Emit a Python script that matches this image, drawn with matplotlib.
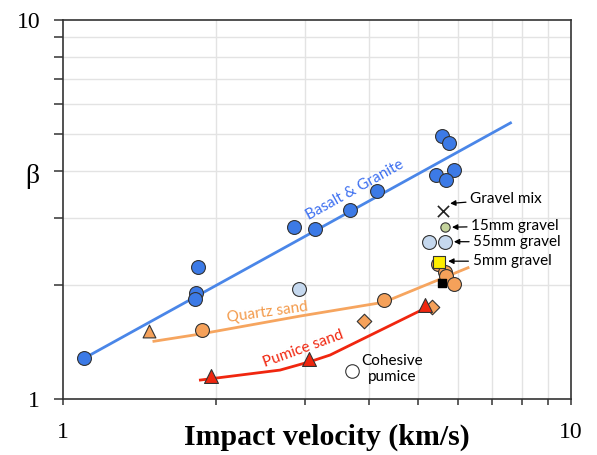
import matplotlib
matplotlib.use("Agg")
import matplotlib.pyplot as plt
from matplotlib.ticker import LogLocator, NullFormatter, FixedLocator, FixedFormatter

# basalt & granite targets
basalt_v = [1.10, 1.845, 1.827, 1.82, 2.85, 3.13, 3.67, 4.15, 5.57, 5.75, 5.88, 5.42, 5.67]
basalt_b = [1.28, 2.23, 1.905, 1.835, 2.84, 2.81, 3.15, 3.54, 4.94, 4.74, 4.02, 3.90, 3.78]
basalt_fit_v = [1.10, 7.6]
basalt_fit_b = [1.28, 5.35]

# quartz sand
quartz_v = [1.877, 4.28, 5.47, 5.65, 5.67, 5.88]
quartz_b = [1.52, 1.825, 2.27, 2.16, 2.11, 2.01]
quartz_tri_v = [1.48]
quartz_tri_b = [1.51]
quartz_dia_v = [3.91, 5.33]
quartz_dia_b = [1.61, 1.75]
quartz_fit_v = [1.51, 1.87, 2.93, 4.28, 6.27]
quartz_fit_b = [1.42, 1.485, 1.655, 1.80, 2.22]

# pumice sand
pumice_v = [1.955, 3.05, 5.16]
pumice_b = [1.15, 1.275, 1.77]
pumice_fit_v = [1.864, 2.674, 3.06, 3.355, 5.08]
pumice_fit_b = [1.122, 1.192, 1.254, 1.306, 1.717]

cohesive_v, cohesive_b = [3.70], [1.185]
lightblue_v = [2.915, 5.25, 5.65]
lightblue_b = [1.95, 2.60, 2.60]
gravelmix_v, gravelmix_b = [5.60], [3.13]
gravel15_v, gravel15_b = [5.65], [2.84]
gravel5_v, gravel5_b = [5.50], [2.30]
black_v, black_b = [5.57], [2.02]

fig = plt.figure(figsize=(5.97, 4.55), dpi=100)
ax = fig.add_axes([0.1055, 0.1231, 0.851, 0.833])
ax.set_xscale("log")
ax.set_yscale("log")
ax.set_xlim(1, 10)
ax.set_ylim(1, 10)

grid_vals = [2, 3, 4, 5, 6, 7, 8, 9]
for g in grid_vals:
    ax.axvline(g, color="#e3e3e3", lw=1.0, zorder=0)
    ax.axhline(g, color="#e3e3e3", lw=1.0, zorder=0)

ax.plot(basalt_fit_v, basalt_fit_b, color="#4a86e8", lw=2, zorder=2)
ax.plot(quartz_fit_v, quartz_fit_b, color="#f6a55f", lw=2, zorder=2)
ax.plot(pumice_fit_v, pumice_fit_b, color="#f0260f", lw=2, zorder=2)

ec = "#333333"
ax.scatter(basalt_v, basalt_b, s=100, c="#3c7ae6", edgecolors=ec, linewidths=0.8, zorder=3)
ax.scatter(lightblue_v, lightblue_b, s=100, c="#c5d8ee", edgecolors=ec, linewidths=0.8, zorder=3)
ax.scatter(quartz_v, quartz_b, s=100, c="#f5a15a", edgecolors=ec, linewidths=0.8, zorder=3)
ax.scatter(quartz_tri_v, quartz_tri_b, s=85, marker="^", c="#f5a15a", edgecolors=ec, linewidths=0.8, zorder=3)
ax.scatter(quartz_dia_v, quartz_dia_b, s=55, marker="D", c="#f5a15a", edgecolors=ec, linewidths=0.8, zorder=3)
ax.scatter(pumice_v, pumice_b, s=100, marker="^", c="#f0260f", edgecolors=ec, linewidths=0.8, zorder=4)
ax.scatter(cohesive_v, cohesive_b, s=95, c="white", edgecolors=ec, linewidths=0.8, zorder=3)
ax.scatter(gravelmix_v, gravelmix_b, s=65, marker="x", c="#222222", linewidths=1.2, zorder=3)
ax.scatter(gravel15_v, gravel15_b, s=45, c="#c4d39c", edgecolors=ec, linewidths=0.8, zorder=3)
ax.scatter(gravel5_v, gravel5_b, s=85, marker="s", c="#ffee00", edgecolors=ec, linewidths=0.8, zorder=5)
ax.scatter(black_v, black_b, s=30, marker="s", c="black", zorder=3)

sans = "Lato"
fs = 11
ax.text(3.76, 3.56, "Basalt & Granite", color="#3c6ff0", fontsize=fs, family=sans,
        rotation=29, ha="center", va="center", rotation_mode="anchor")
ax.text(2.53, 1.69, "Quartz sand", color="#f39a4a", fontsize=fs, family=sans,
        rotation=8, ha="center", va="center", rotation_mode="anchor")
ax.text(2.97, 1.36, "Pumice sand", color="#f0260f", fontsize=fs, family=sans,
        rotation=20, ha="center", va="center", rotation_mode="anchor")
ax.text(4.44, 1.2, "Cohesive\npumice", color="black", fontsize=fs, family=sans,
        ha="center", va="center", linespacing=1.15)

ann = [("Gravel mix", (5.78, 3.28), (6.33, 3.37)),
       ("15mm gravel", (5.83, 2.84), (6.36, 2.86)),
       ("55mm gravel", (5.88, 2.60), (6.42, 2.60)),
       ("5mm gravel", (5.73, 2.31), (6.40, 2.31))]
for label, xy, xytext in ann:
    ax.annotate(label, xy=xy, xytext=xytext, fontsize=fs, family=sans,
                ha="left", va="center",
                arrowprops=dict(arrowstyle="-|>", color="black", lw=0.9,
                                mutation_scale=8, shrinkA=1, shrinkB=0))

for sp in ax.spines.values():
    sp.set_color("#333333")
    sp.set_linewidth(1.2)

ax.xaxis.set_major_locator(FixedLocator([1, 10]))
ax.xaxis.set_major_formatter(FixedFormatter(["1", "10"]))
ax.yaxis.set_major_locator(FixedLocator([1, 10]))
ax.yaxis.set_major_formatter(FixedFormatter(["1", "10"]))
ax.xaxis.set_minor_locator(LogLocator(base=10, subs=grid_vals))
ax.yaxis.set_minor_locator(LogLocator(base=10, subs=grid_vals))
ax.xaxis.set_minor_formatter(NullFormatter())
ax.yaxis.set_minor_formatter(NullFormatter())
ax.tick_params(which="both", direction="out", color="#333333", width=1.1)
ax.tick_params(axis="y", which="both", length=6.5)
ax.tick_params(axis="x", which="both", length=4.5)
ax.tick_params(axis="x", which="major", pad=12)
ax.tick_params(axis="y", which="major", pad=10)
for lab in ax.get_xticklabels() + ax.get_yticklabels():
    lab.set_family("Liberation Serif")
    lab.set_fontsize(17)

ax.set_xlabel("Impact velocity (km/s)", family="Liberation Serif", fontsize=21.5,
              fontweight="bold")
ax.xaxis.set_label_coords(0.52, -0.065)
ax.set_ylabel("β", family="Liberation Serif", fontsize=20, rotation=0)
ax.yaxis.set_label_coords(-0.06, 0.555)

fig.savefig("out.png", dpi=100)
